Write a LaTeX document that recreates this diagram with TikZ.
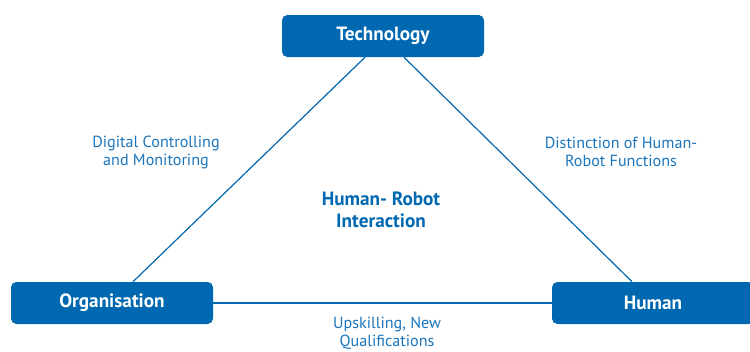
\documentclass[tikz,border=0pt]{standalone}
\usepackage{fontspec}
\setmainfont{PT Sans}
\usetikzlibrary{calc}
\definecolor{bleu}{HTML}{0068B0}
\definecolor{bleuclair}{HTML}{1B75BB}
\tikzset{
    boite/.style={fill=bleu, draw=none, rounded corners=4pt, minimum width=151.5pt, minimum height=31.5pt, text=white, font=\fontsize{14.4}{16}\selectfont\bfseries, inner sep=0pt},
    lien/.style={draw=bleu, line width=0.9pt},
    etiquette/.style={text=bleuclair, font=\fontsize{12.1}{13.5}\selectfont, align=center, inner sep=0pt},
  }
\begin{document}
\begin{tikzpicture}[x=0.75pt,y=-0.75pt]
				  %cadre
				  \useasboundingbox (0,0) rectangle (750,351);
				  
				  %boites
				  \node[boite] (T) at (383,36) {Technology};
				  \node[boite] (O) at (112,303) {Organisation};
				  \node[boite] (H) at (653,303) {Human};
				  
				  %liens
				  \coordinate (T1) at ($(T.south)+(-18,0)$);
				  \coordinate (T2) at ($(T.south)+(21,0)$);
				  \coordinate (O1) at ($(O.north)+(21,0)$);
				  \coordinate (H1) at ($(H.north)+(-21,0)$);
				  \draw[lien] (T1) -- (O1);
				  \draw[lien] (T2) -- (H1);
				  \draw[lien] (O.east) -- (H.west);
				  
				  %textes
				  \node[etiquette] (dcm) at (156,152) {Digital Controlling\\and Monitoring};
				  \node[etiquette] (dhr) at (621,152) {Distinction of Human-\\Robot Functions};
				  \node[etiquette] (uq) at (387,333) {Upskilling, New\\Qualifications};
				  \node[etiquette, font=\fontsize{14.4}{16.5}\selectfont\bfseries, text=bleu] (hri) at (381,210) {Human- Robot\\Interaction};
\end{tikzpicture}
\end{document}
